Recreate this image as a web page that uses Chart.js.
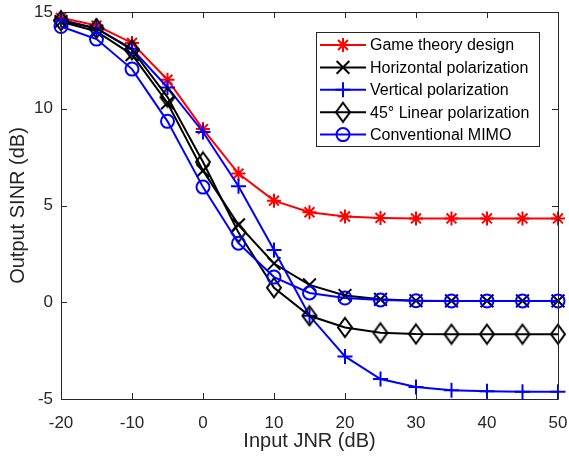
<!DOCTYPE html>
<html>
<head>
<meta charset="utf-8">
<script src="https://cdn.jsdelivr.net/npm/chart.js@4.4.1/dist/chart.umd.min.js"></script>
<style>
  html, body { margin: 0; padding: 0; background: #fff; }
  #wrap { width: 569px; height: 460px; }
</style>
</head>
<body>
<div id="wrap"><canvas id="chart" width="569" height="460"></canvas></div>
<script>
// input JNR (dB)
const jnr = [-20, -15, -10, -5, 0, 5, 10, 15, 20, 25, 30, 35, 40, 45, 50];

// output SINR (dB)
const gameTheory = [14.7, 14.3, 13.4, 11.5, 8.95, 6.65, 5.25, 4.65, 4.43, 4.36, 4.33, 4.33, 4.33, 4.33, 4.33];
const horizontal = [14.5, 14.0, 12.8, 10.3, 6.8, 4.0, 2.0, 0.9, 0.35, 0.15, 0.08, 0.07, 0.07, 0.07, 0.07];
const vertical = [14.6, 14.15, 13.1, 11.1, 8.8, 6.0, 2.7, -0.7, -2.8, -3.97, -4.38, -4.55, -4.6, -4.62, -4.62];
const linear45 = [14.55, 14.15, 13.05, 10.6, 7.25, 3.6, 0.75, -0.7, -1.3, -1.58, -1.64, -1.65, -1.65, -1.65, -1.65];
const conventional = [14.25, 13.6, 12.05, 9.35, 5.95, 3.05, 1.3, 0.48, 0.22, 0.12, 0.08, 0.07, 0.07, 0.07, 0.07];

const legendNames = ["Game theory design", "Horizontal polarization", "Vertical polarization",
                     "45\u00b0 Linear polarization", "Conventional MIMO"];

const xTicks = [-20, -10, 0, 10, 20, 30, 40, 50];
const yTicks = [-5, 0, 5, 10, 15];

const FONT = "'Liberation Sans', Arial, Helvetica, sans-serif";
const AXIS_COLOR = "#262626";

// matlab style diamond (a bit taller than wide)
function diamondMarker(w, h, color, lw) {
  const c = document.createElement("canvas");
  c.width = w + lw * 2;
  c.height = h + lw * 2;
  const g = c.getContext("2d");
  const cx = c.width / 2, cy = c.height / 2;
  g.strokeStyle = color;
  g.lineWidth = lw;
  g.beginPath();
  g.moveTo(cx, cy - h / 2);
  g.lineTo(cx + w / 2, cy);
  g.lineTo(cx, cy + h / 2);
  g.lineTo(cx - w / 2, cy);
  g.closePath();
  g.stroke();
  return c;
}

const diamond = diamondMarker(14, 19, "#000000", 2);

function series(label, values, color, style, radius, order) {
  return {
    label: label,
    data: jnr.map((x, i) => ({ x: x, y: values[i] })),
    borderColor: color,
    backgroundColor: color,
    borderWidth: 2,
    pointStyle: style,
    pointRadius: radius,
    pointBorderColor: color,
    pointBackgroundColor: "rgba(0,0,0,0)",
    pointBorderWidth: 2,
    tension: 0,
    clip: false,
    order: order
  };
}

const datasets = [
  series(legendNames[0], gameTheory, "#ff0000", "star", 7, 5),
  series(legendNames[1], horizontal, "#000000", "crossRot", 9, 4),
  series(legendNames[2], vertical, "#0000ff", "cross", 7.5, 3),
  series(legendNames[3], linear45, "#000000", diamond, 9, 2),
  series(legendNames[4], conventional, "#0000ff", "circle", 6.5, 1)
];

// box round the axes with inward ticks on all four sides
const axesBox = {
  id: "axesBox",
  afterDatasetsDraw(chart) {
    const { ctx, chartArea: a, scales } = chart;
    ctx.save();
    ctx.strokeStyle = AXIS_COLOR;
    ctx.lineWidth = 1;
    ctx.beginPath();
    ctx.rect(Math.round(a.left) + 0.5, Math.round(a.top) + 0.5,
             Math.round(a.right - a.left), Math.round(a.bottom - a.top));
    const tl = 6;
    xTicks.forEach(v => {
      const px = Math.round(scales.x.getPixelForValue(v)) + 0.5;
      ctx.moveTo(px, a.bottom); ctx.lineTo(px, a.bottom - tl);
      ctx.moveTo(px, a.top); ctx.lineTo(px, a.top + tl);
    });
    yTicks.forEach(v => {
      const py = Math.round(scales.y.getPixelForValue(v)) + 0.5;
      ctx.moveTo(a.left, py); ctx.lineTo(a.left + tl, py);
      ctx.moveTo(a.right, py); ctx.lineTo(a.right - tl, py);
    });
    ctx.stroke();
    ctx.restore();
  }
};

// legend box inside the axes, top right
const insideLegend = {
  id: "insideLegend",
  afterDraw(chart) {
    const ctx = chart.ctx;
    const box = { x: 316, y: 32, w: 223, h: 114 };
    const rowY0 = 45, rowStep = 22.4;
    ctx.save();
    ctx.fillStyle = "#ffffff";
    ctx.fillRect(box.x, box.y, box.w, box.h);
    ctx.strokeStyle = AXIS_COLOR;
    ctx.lineWidth = 1;
    ctx.strokeRect(box.x + 0.5, box.y + 0.5, box.w, box.h);

    chart.data.datasets.forEach((ds, i) => {
      const y = rowY0 + i * rowStep;
      ctx.strokeStyle = ds.borderColor;
      ctx.lineWidth = 2;
      ctx.beginPath();
      ctx.moveTo(320, y);
      ctx.lineTo(366, y);
      ctx.stroke();

      ctx.fillStyle = "rgba(0,0,0,0)";
      Chart.helpers.drawPoint(ctx, {
        pointStyle: ds.pointStyle,
        radius: ds.pointRadius,
        rotation: 0,
        borderWidth: 2
      }, 343, y);

      ctx.fillStyle = "#000000";
      ctx.font = "16px " + FONT;
      ctx.textAlign = "left";
      ctx.textBaseline = "middle";
      ctx.fillText(ds.label, 370, y + 1);
    });
    ctx.restore();
  }
};

new Chart(document.getElementById("chart"), {
  type: "line",
  data: { datasets: datasets },
  options: {
    responsive: false,
    animation: false,
    devicePixelRatio: 1,
    layout: { padding: { left: 0, right: 11, top: 12, bottom: 0 } },
    plugins: {
      legend: { display: false },
      tooltip: { enabled: false }
    },
    scales: {
      x: {
        type: "linear",
        min: -20,
        max: 50,
        afterFit: s => { s.height = 61; s.paddingLeft = 0; s.paddingRight = 0; },
        afterBuildTicks: s => { s.ticks = xTicks.map(v => ({ value: v })); },
        grid: { display: true, drawOnChartArea: false, drawTicks: false },
        border: { display: false },
        ticks: {
          color: AXIS_COLOR,
          font: { family: FONT, size: 17 },
          padding: 14,
          maxRotation: 0
        },
        title: {
          display: true,
          text: "Input JNR (dB)",
          color: AXIS_COLOR,
          font: { family: FONT, size: 20 },
          padding: { top: 0, bottom: 7 }
        }
      },
      y: {
        type: "linear",
        min: -5,
        max: 15,
        afterFit: s => { s.width = 61; s.paddingTop = 0; s.paddingBottom = 0; },
        afterBuildTicks: s => { s.ticks = yTicks.map(v => ({ value: v })); },
        grid: { display: true, drawOnChartArea: false, drawTicks: false },
        border: { display: false },
        ticks: {
          color: AXIS_COLOR,
          font: { family: FONT, size: 17 },
          padding: 8
        },
        title: {
          display: true,
          text: "Output SINR (dB)",
          color: AXIS_COLOR,
          font: { family: FONT, size: 20 },
          padding: { top: 6, bottom: 0 }
        }
      }
    }
  },
  plugins: [axesBox, insideLegend]
});
</script>
</body>
</html>
